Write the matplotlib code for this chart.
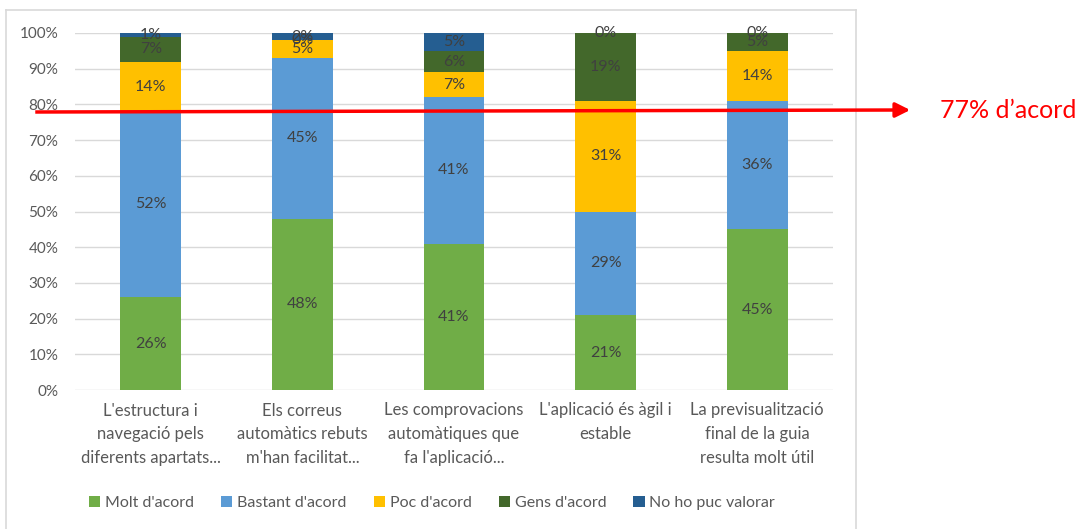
import matplotlib.pyplot as plt
import numpy as np
from matplotlib.lines import Line2D

plt.rcParams['font.family'] = ['Lato', 'DejaVu Sans']

categories = ["L'estructura i\nnavegació pels\ndiferents apartats...",
              "Els correus\nautomàtics rebuts\nm'han facilitat...",
              "Les comprovacions\nautomàtiques que\nfa l'aplicació...",
              "L'aplicació és àgil i\nestable",
              "La previsualització\nfinal de la guia\nresulta molt útil"]
series = ["Molt d'acord", "Bastant d'acord", "Poc d'acord", "Gens d'acord", "No ho puc valorar"]
molt = [26, 48, 41, 21, 45]
bastant = [52, 45, 41, 29, 36]
poc = [14, 5, 7, 31, 14]
gens = [7, 0, 6, 19, 5]
no_valorar = [1, 2, 5, 0, 0]
colors = ['#70AD47', '#5B9BD5', '#FFC000', '#43682B', '#255E91']

W, H = 1081, 529
fig = plt.figure(figsize=(W / 100, H / 100), dpi=100)
ax = fig.add_axes([75 / W, 1 - 390 / H, 758 / W, 357 / H])

x = np.arange(len(categories))
bottom = np.zeros(len(categories))
for name, vals, c in zip(series, [molt, bastant, poc, gens, no_valorar], colors):
    vals = np.array(vals)
    ax.bar(x, vals, 0.4, bottom=bottom, color=c, label=name, zorder=2)
    for xi, b, v in zip(x, bottom, vals):
        ax.text(xi, b + v / 2, f"{v}%", ha='center', va='center',
                fontsize=11.5, color='#404040', zorder=3)
    bottom += vals

ax.set_xlim(-0.5, len(categories) - 0.5)
ax.set_ylim(0, 100)
ax.set_yticks(range(0, 101, 10))
ax.set_yticklabels([f"{v}%" for v in range(0, 101, 10)])
ax.set_xticks(x)
ax.set_xticklabels(categories, linespacing=1.6)
ax.tick_params(length=0, labelcolor='#595959')
ax.tick_params(axis='y', pad=12, labelsize=11)
ax.tick_params(axis='x', pad=9, labelsize=12)
ax.grid(axis='y', color='#D9D9D9', lw=1, zorder=0)
for s in ax.spines.values():
    s.set_visible(False)

fig.legend(loc='center', bbox_to_anchor=(432 / W, 1 - 503 / H), ncol=5, frameon=False,
           fontsize=11.5, labelcolor='#595959', handlelength=0.7, handleheight=0.7,
           handletextpad=0.3, columnspacing=1.7)

# chart frame
fr = '#D9D9D9'
fig.add_artist(Line2D([6 / W, 6 / W], [0, 1 - 10 / H], color=fr, lw=1.2))
fig.add_artist(Line2D([6 / W, 856 / W], [1 - 10 / H, 1 - 10 / H], color=fr, lw=1.2))
fig.add_artist(Line2D([856 / W, 856 / W], [0, 1 - 10 / H], color=fr, lw=1.2))

# red annotation arrow
fig.add_artist(Line2D([37 / W, 900 / W], [1 - 112 / H, 1 - 110 / H], color='red', lw=2.5))
ax.annotate('', xy=(913 / W, 1 - 110 / H), xytext=(895 / W, 1 - 110 / H),
            xycoords='figure fraction', textcoords='figure fraction',
            arrowprops=dict(arrowstyle='-|>', color='red', lw=2.5, mutation_scale=22))
fig.text(940 / W, 1 - 111 / H, "77% d’acord", color='red', fontsize=18,
         ha='left', va='center')

fig.savefig('out.png', dpi=100)
